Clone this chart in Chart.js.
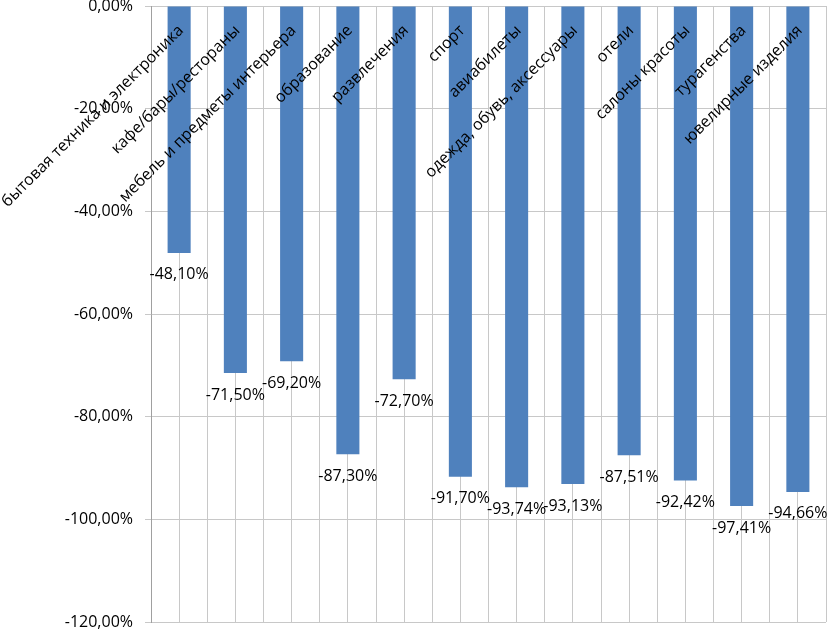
<!DOCTYPE html>
<html>
<head>
<meta charset="utf-8">
<script src="https://cdn.jsdelivr.net/npm/chart.js@4"></script>
<style>
  html, body { margin: 0; padding: 0; background: #fff; }
  #wrap { width: 828px; height: 631px; position: relative; }
</style>
</head>
<body>
<div id="wrap"><canvas id="chart"></canvas></div>
<script>
// ── data ─────────────────────────────────────────────────────────────────────
const categories = [
  'бытовая техника и электроника',
  'кафе/бары/рестораны',
  'мебель и предметы интерьера',
  'образование',
  'развлечения',
  'спорт',
  'авиабилеты',
  'одежда, обувь, аксессуары',
  'отели',
  'салоны красоты',
  'турагенства',
  'ювелирные изделия',
];

const changes = [-48.10, -71.50, -69.20, -87.30, -72.70, -91.70, -93.74, -93.13, -87.51, -92.42, -97.41, -94.66];

const yTicks = [0, -20, -40, -60, -80, -100, -120];

// ── chart ────────────────────────────────────────────────────────────────────
const FONT = 'Open Sans, sans-serif';
const pct = v => (Math.abs(v) < 1e-9 ? 0 : v).toFixed(2).replace('.', ',') + '%';

const labelsPlugin = {
  id: 'labels',
  afterDatasetsDraw(chart) {
    const { ctx, chartArea, scales } = chart;
    const meta = chart.getDatasetMeta(0);
    ctx.save();
    ctx.fillStyle = '#000';
    ctx.font = '16px ' + FONT;

    // value labels under each bar
    ctx.textAlign = 'center';
    ctx.textBaseline = 'middle';
    meta.data.forEach((bar, i) => {
      ctx.fillText(pct(changes[i]), bar.x, bar.y + 22);
    });

    // category labels, rotated, hanging from the zero line
    categories.forEach((name, i) => {
      const x = scales.x.getPixelForValue(i) + 2;
      const y = chartArea.top + 22;
      ctx.save();
      ctx.translate(x, y);
      ctx.rotate(-Math.PI / 4);
      ctx.textAlign = 'right';
      ctx.textBaseline = 'middle';
      ctx.fillText(name, 0, 0);
      ctx.restore();
    });
    ctx.restore();
  },
};

new Chart(document.getElementById('chart'), {
  type: 'bar',
  data: {
    labels: categories,
    datasets: [{
      data: changes,
      backgroundColor: '#4f81bd',
      borderWidth: 0,
      categoryPercentage: 1,
      barPercentage: 0.41,
    }],
  },
  options: {
    responsive: true,
    maintainAspectRatio: false,
    animation: false,
    layout: { padding: { left: 0, right: 2, top: 6, bottom: 9 } },
    plugins: { legend: { display: false }, tooltip: { enabled: false } },
    scales: {
      x: {
        position: 'bottom',
        offset: true,
        grid: { offset: true, color: '#c8c8c8', drawTicks: false },
        border: { display: false },
        ticks: { display: false },
        afterFit: s => { s.height = 0; },
      },
      x2: {
        type: 'category',
        labels: categories,
        position: 'bottom',
        offset: true,
        grid: { offset: false, color: '#c8c8c8', drawTicks: false },
        border: { display: false },
        ticks: { display: false },
        afterFit: s => { s.height = 0; },
      },
      y: {
        min: -120,
        max: 0,
        afterBuildTicks: s => { s.ticks = yTicks.map(v => ({ value: v })); },
        grid: { color: '#c8c8c8', tickLength: 6 },
        border: { color: '#a0a0a0' },
        ticks: {
          font: { family: FONT, size: 16 },
          color: '#000',
          padding: 12,
          callback: v => pct(v),
        },
        afterFit: s => {
          s.width = 151;
          s.paddingTop = 0;
          s.paddingBottom = 0;
        },
      },
    },
  },
  plugins: [labelsPlugin],
});
</script>
</body>
</html>
